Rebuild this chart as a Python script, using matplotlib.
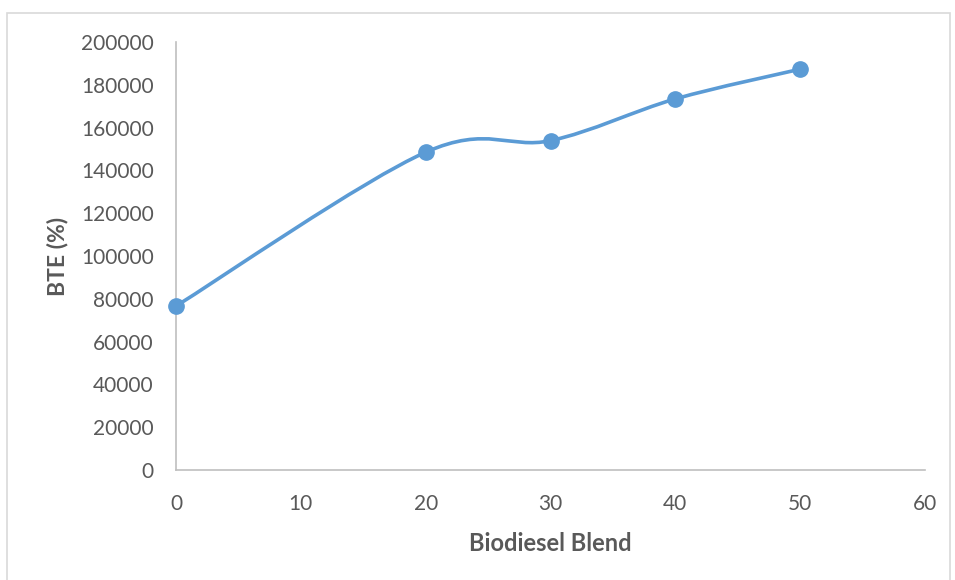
import matplotlib.pyplot as plt
from matplotlib.path import Path
from matplotlib.patches import PathPatch, Rectangle

# blend percentage vs BTE
blend = [0, 20, 30, 40, 50]
bte = [76600, 148500, 153900, 173400, 187300]

x_ticks = [0, 10, 20, 30, 40, 50, 60]
y_ticks = [0, 20000, 40000, 60000, 80000, 100000, 120000, 140000, 160000, 180000, 200000]

plt.rcParams['font.family'] = ['Lato', 'DejaVu Sans']
grey = '#595959'
blue = '#5B9BD5'

fig = plt.figure(figsize=(9.55, 5.8), dpi=100)
ax = fig.add_axes([0.1843, 0.1897, 0.9686 - 0.1843, 0.9276 - 0.1897])

# smoothed line: bezier segments, control points from neighbouring points (spreadsheet style)
pts = list(zip(blend, bte))
verts = [pts[0]]
codes = [Path.MOVETO]
n = len(pts)
for i in range(n - 1):
    p0 = pts[max(i - 1, 0)]
    p1 = pts[i]
    p2 = pts[i + 1]
    p3 = pts[min(i + 2, n - 1)]
    c1 = (p1[0] + (p2[0] - p0[0]) / 6, p1[1] + (p2[1] - p0[1]) / 6)
    c2 = (p2[0] - (p3[0] - p1[0]) / 6, p2[1] - (p3[1] - p1[1]) / 6)
    verts += [c1, c2, p2]
    codes += [Path.CURVE4] * 3
ax.add_patch(PathPatch(Path(verts, codes), facecolor='none', edgecolor=blue,
                       lw=2.6, capstyle='round', zorder=3))
ax.plot(blend, bte, 'o', color=blue, markersize=11, zorder=4, clip_on=False)

ax.set_xlim(0, 60)
ax.set_ylim(0, 200000)
ax.set_xticks(x_ticks)
ax.set_yticks(y_ticks)
ax.tick_params(length=0, labelsize=15, colors=grey)
ax.tick_params(axis='y', pad=16)
ax.tick_params(axis='x', pad=17)
for s in ['top', 'right']:
    ax.spines[s].set_visible(False)
for s in ['left', 'bottom']:
    ax.spines[s].set_color('#BFBFBF')
    ax.spines[s].set_linewidth(1.2)

ax.set_xlabel('Biodiesel Blend', fontsize=17, fontweight='bold', color=grey, labelpad=13)
ax.set_ylabel('BTE (%)', fontsize=16.5, fontweight='bold', color=grey, labelpad=9)

# chart border
fig.patches.append(Rectangle((7 / 955, -0.05), 943 / 955, 1.05 - 13 / 580,
                             transform=fig.transFigure, fill=False,
                             edgecolor='#D9D9D9', lw=1.2))

fig.savefig('out.png', dpi=100)
